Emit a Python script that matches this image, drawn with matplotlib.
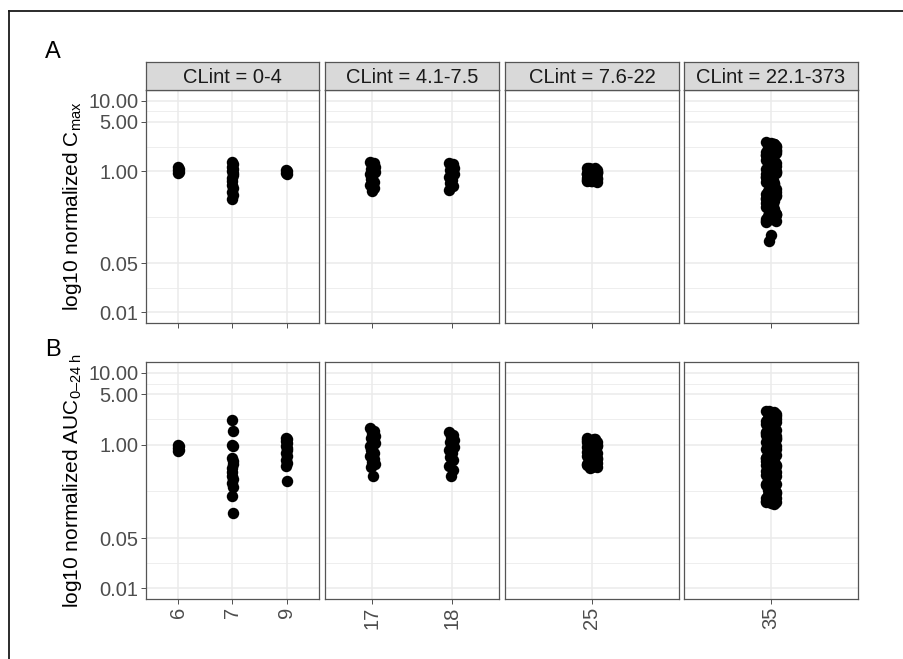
# facet plot of normalized Cmax / AUC vs compound group, split by CLint bin
import matplotlib
matplotlib.use('Agg')
import matplotlib.pyplot as plt
from matplotlib.lines import Line2D
import numpy as np

plt.rcParams['font.family'] = ['Liberation Sans', 'DejaVu Sans']
plt.rcParams['mathtext.fontset'] = 'custom'
plt.rcParams['mathtext.rm'] = 'Liberation Sans'
plt.rcParams['mathtext.it'] = 'Liberation Sans:italic'

# facets and the categories inside each one
strip_labels = ['CLint = 0-4', 'CLint = 4.1-7.5', 'CLint = 7.6-22', 'CLint = 22.1-373']
facet_cats = [['6', '7', '9'], ['17', '18'], ['25'], ['35']]

# y axis breaks
y_breaks = [0.01, 0.05, 1.00, 5.00, 10.00]
y_labels = ['0.01', '0.05', '1.00', '5.00', '10.00']

# normalized Cmax
cmax = {
    '6': [1.14, 1.08, 1.03, 0.99, 0.95],
    '7': [1.34, 1.25, 1.16, 1.08, 1.01, 0.94, 0.87, 0.80, 0.72, 0.64, 0.57, 0.51, 0.46, 0.41],
    '9': [1.05, 1.00, 0.95, 0.91],
    '17': [1.36, 1.29, 1.22, 1.15, 1.08, 1.02, 0.96, 0.90, 0.84, 0.77, 0.70, 0.63, 0.57, 0.52],
    '18': [1.32, 1.25, 1.18, 1.10, 1.03, 0.96, 0.90, 0.83, 0.76, 0.69, 0.62, 0.55],
    '25': [1.12, 1.09, 1.06, 1.03, 1.00, 0.97, 0.94, 0.91, 0.88, 0.85, 0.82, 0.79,
           0.76, 0.73, 0.71, 1.10, 1.04, 0.98, 0.92, 0.86, 0.80, 0.75, 0.72,
           1.11, 1.05, 0.99, 0.93, 0.87, 0.81, 0.76, 0.72, 1.07, 1.01, 0.95, 0.89,
           0.83, 0.78, 0.74],
    '35': [2.55, 2.45, 2.35, 2.25, 2.15, 2.05, 1.95, 1.85, 1.75, 1.65, 1.55, 1.45,
           1.36, 1.28, 1.20, 1.12, 1.05, 0.98, 0.92, 0.86, 0.80, 0.75, 0.70, 0.65, 0.60,
           0.56, 0.52, 0.48, 0.45, 0.42, 0.39, 0.36, 0.33, 0.31, 0.29, 0.27, 0.25, 0.23,
           0.215, 0.20, 0.19, 2.50, 2.30, 2.00, 1.70, 1.40, 1.15, 0.95, 0.78, 0.63,
           0.50, 0.40, 0.32, 0.26, 0.21, 0.195, 2.40, 2.10, 1.80, 1.50, 1.25, 1.02,
           0.84, 0.68, 0.55, 0.44, 0.35, 0.28, 0.22, 2.20, 1.90, 1.60, 1.32, 1.08,
           0.89, 0.72, 0.58, 0.47, 0.38, 0.30, 0.24, 0.205, 2.35, 1.98, 1.68, 1.42,
           1.18, 0.99, 0.83, 0.69, 0.57, 0.46, 0.37, 0.30, 0.25, 0.21, 0.125, 0.102],
}

# normalized AUC 0-24 h
auc = {
    '6': [1.00, 0.96, 0.91, 0.85, 0.81],
    '7': [2.20, 1.55, 1.00, 0.95, 0.65, 0.59, 0.53, 0.47, 0.42, 0.37, 0.33, 0.29, 0.26, 0.19, 0.11],
    '9': [1.25, 1.18, 1.11, 1.04, 0.97, 0.90, 0.83, 0.76, 0.69, 0.62, 0.56, 0.50, 0.31],
    '17': [1.68, 1.55, 1.43, 1.32, 1.22, 1.13, 1.05, 0.97, 0.90, 0.83, 0.76, 0.70, 0.64,
           0.58, 0.53, 0.49, 0.36],
    '18': [1.48, 1.37, 1.27, 1.17, 1.08, 1.00, 0.92, 0.84, 0.76, 0.68, 0.61, 0.50, 0.44, 0.37],
    '25': [1.22, 1.18, 1.14, 1.10, 1.06, 1.02, 0.98, 0.94, 0.90, 0.86, 0.82, 0.78,
           0.74, 0.70, 0.66, 0.62, 0.58, 0.55, 0.52, 0.49, 0.47, 1.20, 1.10, 1.00,
           0.88, 0.76, 0.65, 0.56, 0.48, 1.16, 1.04, 0.92, 0.80, 0.69, 0.60, 1.12,
           0.96, 0.84, 0.72, 0.63, 0.53],
    '35': [2.95, 2.80, 2.65, 2.50, 2.35, 2.20, 2.05, 1.92, 1.80, 1.68, 1.57, 1.47,
           1.37, 1.28, 1.19, 1.10, 1.02, 0.95, 0.88, 0.82, 0.76, 0.70, 0.65, 0.60, 0.56,
           0.52, 0.48, 0.44, 0.41, 0.38, 0.35, 0.32, 0.30, 0.28, 0.26, 0.24, 0.22, 0.20,
           0.19, 0.178, 0.165, 0.155, 2.90, 2.45, 2.10, 1.75, 1.45, 1.22, 1.02, 0.85,
           0.71, 0.59, 0.48, 0.40, 0.33, 0.27, 0.22, 0.17, 2.70, 2.30, 1.95, 1.62,
           1.34, 1.12, 0.93, 0.78, 0.65, 0.54, 0.45, 0.37, 0.31, 0.25, 0.21, 0.16,
           2.60, 2.15, 1.85, 1.52, 1.25, 1.05, 0.87, 0.73, 0.62, 0.50, 0.43, 0.34,
           0.29, 0.23, 0.18, 0.15, 2.75, 2.25, 1.88, 1.58, 1.30, 1.07, 0.90, 0.75,
           0.63, 0.52, 0.42, 0.35, 0.28, 0.23, 0.19, 0.16],
}

row_labels = ['log10 normalized C$_{\\mathrm{max}}$',
              'log10 normalized AUC$_{\\mathrm{0\u201324\\ h}}$']

jit = [-0.04, 0.03, -0.01, 0.045, -0.03, 0.01, 0.04, -0.045, 0.0, -0.02, 0.02]
jit_scale = [0.35, 0.7, 0.8, 0.8]

W, H = 904, 659
fig = plt.figure(figsize=(W / 100, H / 100), dpi=100)

def px_axes(l, t, r, b):
    return fig.add_axes([l / W, 1 - b / H, (r - l) / W, (b - t) / H])

cols = [(146, 319), (325, 499), (505, 679), (684, 858)]
rows = [(90, 323), (362, 599)]
edge = '#555555'
grid = '#EBEBEB'

ylo, yhi = 10 ** -2.15, 10 ** 1.15
minor = [10 ** ((np.log10(a) + np.log10(b)) / 2) for a, b in zip(y_breaks[:-1], y_breaks[1:])]

for r, data in enumerate([cmax, auc]):
    top, bot = rows[r]
    for c, cats in enumerate(facet_cats):
        ax = px_axes(cols[c][0], top, cols[c][1], bot)
        ax.set_yscale('log')
        ax.set_ylim(ylo, yhi)
        ax.set_xlim(0.4, len(cats) + 0.6)
        for k, cat in enumerate(cats):
            vals = data[cat]
            xs = [k + 1 + jit_scale[c] * jit[i % len(jit)] for i in range(len(vals))]
            ax.scatter(xs, vals, s=68, color='black', linewidths=0, zorder=3)
        ax.set_xticks(range(1, len(cats) + 1))
        ax.set_yticks(y_breaks)
        ax.set_yticks(minor, minor=True)
        ax.yaxis.set_minor_formatter(plt.NullFormatter())
        ax.grid(True, which='major', color=grid, lw=1.1, zorder=0)
        ax.grid(True, which='minor', axis='y', color=grid, lw=0.6, zorder=0)
        ax.set_axisbelow(True)
        for s in ax.spines.values():
            s.set_color(edge)
            s.set_linewidth(0.9)
        ax.tick_params(axis='both', which='major', length=3.5, width=0.6, color='#333333',
                       labelsize=14.5, labelcolor='#4D4D4D', pad=2)
        ax.tick_params(axis='y', which='minor', length=0)
        if c == 0:
            ax.set_yticklabels(y_labels)
        else:
            ax.tick_params(axis='y', which='major', length=0, labelleft=False)
        if r == 1:
            ax.set_xticklabels(cats, rotation=90, va='top', ha='center')
        else:
            ax.set_xticklabels([])
        if r == 0:
            sa = px_axes(cols[c][0], 62, cols[c][1], top)
            sa.set_xticks([])
            sa.set_yticks([])
            sa.set_facecolor('#D9D9D9')
            for s in sa.spines.values():
                s.set_color(edge)
                s.set_linewidth(0.9)
            sa.text(0.5, 0.45, strip_labels[c], ha='center', va='center', fontsize=14.5,
                    color='#1A1A1A', transform=sa.transAxes)
    fig.text(73 / W, 1 - (top + bot) / 2 / H, row_labels[r], rotation=90,
             ha='center', va='center', fontsize=15, color='black')

fig.text(53 / W, 1 - 52 / H, 'A', ha='center', va='center', fontsize=17)
fig.text(53 / W, 1 - 350 / H, 'B', ha='center', va='center', fontsize=17)

# outer frame (only top and left edges are inside the picture)
fig.add_artist(Line2D([9 / W, 1], [1 - 11 / H, 1 - 11 / H], color='#1A1A1A', lw=1.3,
                      transform=fig.transFigure))
fig.add_artist(Line2D([9 / W, 9 / W], [0, 1 - 11 / H], color='#1A1A1A', lw=1.3,
                      transform=fig.transFigure))

fig.savefig('out.png', dpi=100)
